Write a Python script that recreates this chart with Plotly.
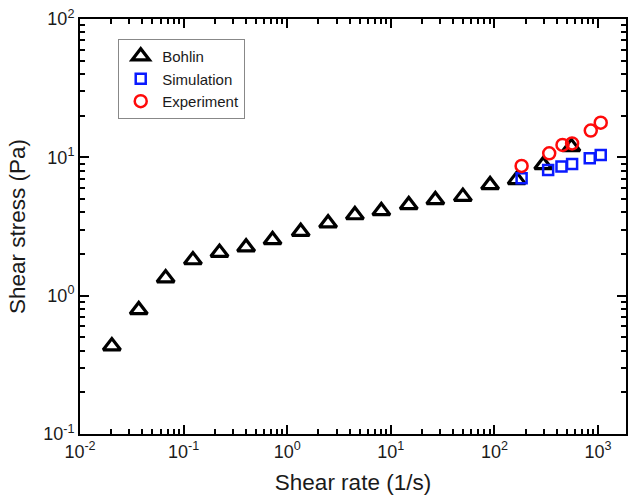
import plotly.graph_objects as go

# Data
bohlin_rate = [0.0203, 0.0369, 0.0671, 0.123, 0.222, 0.401, 0.722, 1.35, 2.48, 4.5,
               8.1, 14.9, 26.9, 49.6, 90.8, 164, 296, 553]
bohlin_stress = [0.432, 0.789, 1.34, 1.81, 2.05, 2.24, 2.53, 2.90, 3.34, 3.83,
                 4.10, 4.53, 4.92, 5.20, 6.32, 6.87, 8.81, 11.9]

sim_rate = [183, 330, 444, 562, 832, 1062]
sim_stress = [7.06, 8.11, 8.57, 8.96, 9.85, 10.4]

exp_rate = [183, 338, 454, 562, 851, 1062]
exp_stress = [8.67, 10.7, 12.3, 12.6, 15.6, 17.8]

x_exponents = [-2, -1, 0, 1, 2, 3]
y_exponents = [-1, 0, 1, 2]

FONT = "Arial, 'Liberation Sans', sans-serif"
INK = "#1a1a1a"
X_RANGE = [-2, 3.27]
Y_RANGE = [-1, 2]


def major(exps):
    return [10.0 ** e for e in exps], ["10<sup>%d</sup>" % e for e in exps]


def minor(exps):
    vals = []
    for e in exps:
        for m in range(2, 10):
            vals.append(m * 10.0 ** e)
    return vals


fig = go.Figure()
fig.add_trace(go.Scatter(
    x=bohlin_rate, y=bohlin_stress, mode="markers", name="Bohlin",
    marker=dict(symbol="triangle-up-open", size=15, color="black",
                line=dict(width=3.2, color="black"))))
fig.add_trace(go.Scatter(
    x=sim_rate, y=sim_stress, mode="markers", name="Simulation",
    marker=dict(symbol="square-open", size=10, color="#0a1aff",
                line=dict(width=2.5, color="#0a1aff"))))
fig.add_trace(go.Scatter(
    x=exp_rate, y=exp_stress, mode="markers", name="Experiment",
    marker=dict(symbol="circle-open", size=12, color="#ff0a0a",
                line=dict(width=2.5, color="#ff0a0a"))))

xv, xt = major(x_exponents)
yv, yt = major(y_exponents)

common = dict(type="log", showgrid=False, zeroline=False, layer="above traces",
              showline=True, linecolor="black", linewidth=2, mirror="allticks",
              ticks="inside", ticklen=9, tickwidth=2, tickcolor="black",
              tickfont=dict(family=FONT, size=18, color=INK), tickmode="array")

fig.update_xaxes(**common, range=X_RANGE, tickvals=xv, ticktext=xt,
                 minor=dict(tickmode="array", tickvals=minor(x_exponents),
                            ticks="inside", ticklen=5, tickwidth=1.5, tickcolor="black"),
                 title=dict(text="Shear rate (1/s)", font=dict(family=FONT, size=22.5, color=INK),
                            standoff=14))
fig.update_yaxes(**common, range=Y_RANGE, tickvals=yv, ticktext=yt,
                 minor=dict(tickmode="array", tickvals=minor(y_exponents),
                            ticks="inside", ticklen=5, tickwidth=1.5, tickcolor="black"),
                 title=dict(text="Shear stress (Pa)", font=dict(family=FONT, size=22.5, color=INK),
                            standoff=11))

fig.update_layout(
    width=630, height=498,
    margin=dict(l=80, r=2, t=19, b=64),
    paper_bgcolor="white", plot_bgcolor="rgba(0,0,0,0)",
    font=dict(family=FONT, color=INK),
    legend=dict(x=0.07, y=0.952, xanchor="left", yanchor="top",
                bordercolor="#888", borderwidth=1, bgcolor="white",
                font=dict(family=FONT, size=15, color=INK),
                tracegroupgap=0, itemwidth=33),
    showlegend=True,
)

fig.write_html("out.html")
